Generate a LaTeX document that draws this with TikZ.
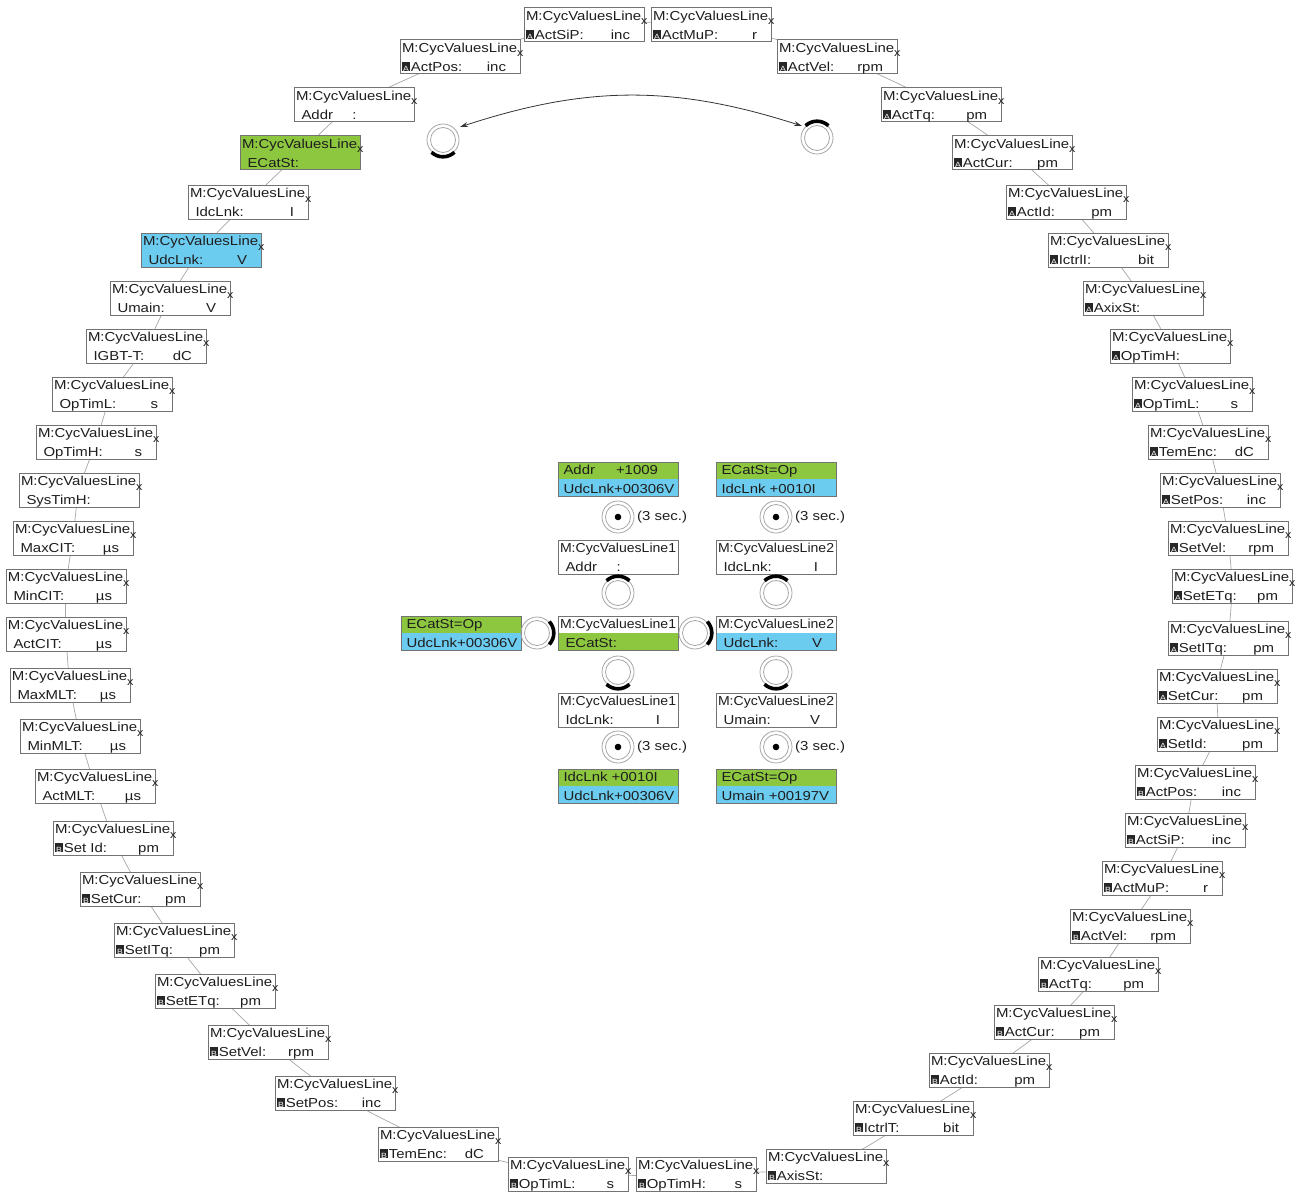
\documentclass[tikz,border=0pt]{standalone}
\usepackage{fontspec}
\setmainfont[FakeStretch=1.15]{Liberation Sans}
\usepackage{graphicx}
\usetikzlibrary{backgrounds,arrows.meta}
\definecolor{lcdgreen}{RGB}{141,198,63}
\definecolor{lcdblue}{RGB}{108,204,240}
\definecolor{txt}{RGB}{30,30,30}
\newcommand\xsub{\rlap{\raisebox{-4.3pt}{\fontsize{11}{11}\selectfont x}}}
\newcommand\ico[1]{{\setlength\fboxsep{0pt}\colorbox{black!85}{\makebox[8pt]{\rule{0pt}{9.5pt}\textcolor{white}{\fontsize{7.5}{7.5}\selectfont #1}}}}\hspace{0.8pt}}
\newcommand\ind{\hspace*{5.5pt}}
\newcommand\twol[2]{\parbox{116pt}{\rule{0pt}{12.7pt}#1\\#2\rule[-2.8pt]{0pt}{0pt}}}
\newcommand\cl[1]{\scalebox{0.94}[1]{#1}}
% ring box: name, left, top, label, unit, extra style
\newcommand\rb[6]{\node[rbox,#6] (#1) at (#2+60,#3+17) {\twol{\mbox{M:CycValuesLine}\xsub}{#4\hfill #5\hspace{12pt}}};}
% center box: name, left, top, line1, line2, style
\newcommand\cb[6]{\node[rbox,#6] (#1) at (#2+60,#3+17) {\twol{#4}{#5}};}
% pressed knob: name, x, y, angle
\newcommand\pk[4]{\node[knobc] (#1) at (#2,#3) {};
  \draw[knobring] (#1.center) circle[radius=16];
  \draw[press] (#1.center) ++(#4-43:16.8) arc[start angle=#4-43, end angle=#4+43, radius=16.8];}
% dot knob: name, x, y
\newcommand\dk[3]{\node[knobc] (#1) at (#2,#3) {};
  \draw[knobring] (#1.center) circle[radius=16];
  \fill[black] (#1.center) circle[radius=3.3];
  \node[lbl,anchor=west] (#1t) at ([xshift=19pt]#1.center) {(3 sec.)};}
\begin{document}
\begin{tikzpicture}[x=1pt,y=-1pt,
  every node/.style={font=\fontsize{13}{18.5}\selectfont, text=txt},
  rbox/.style={draw=black!55, line width=1pt, fill=white, inner xsep=2pt, inner ysep=0pt},
  gfill/.style={fill=lcdgreen},
  bfill/.style={fill=lcdblue},
  gb/.style={path picture={\fill[lcdgreen] (path picture bounding box.north west) rectangle (path picture bounding box.east);
     \fill[lcdblue] (path picture bounding box.west) rectangle (path picture bounding box.south east);}},
  lowg/.style={path picture={\fill[lcdgreen] (path picture bounding box.west) rectangle (path picture bounding box.south east);}},
  lowb/.style={path picture={\fill[lcdblue] (path picture bounding box.west) rectangle (path picture bounding box.south east);}},
  knobc/.style={circle, draw=black!35, line width=0.8pt, minimum size=25pt, inner sep=0pt},
  knobring/.style={draw=black!35, line width=0.8pt},
  press/.style={draw=black, line width=3.6pt},
  lbl/.style={inner sep=0pt},
  ring/.style={draw=black!35, line width=0.7pt},
  swap/.style={draw=black!80, line width=0.8pt, {Stealth[length=8pt,width=5pt]}-{Stealth[length=8pt,width=5pt]}}
]
\useasboundingbox (0,0) rectangle (1305,1193);
% top
\rb{tA1}{524}{8}{\ico{A}ActSiP:}{inc}{}
\rb{tA2}{651}{8}{\ico{A}ActMuP:}{r}{}
\rb{a1}{400}{40}{\ico{A}ActPos:}{inc}{}
% right A series
\rb{a3}{777}{40}{\ico{A}ActVel:}{rpm}{}
\rb{a4}{881}{88}{\ico{A}ActTq:}{pm}{}
\rb{a5}{952}{136}{\ico{A}ActCur:}{pm}{}
\rb{a6}{1006}{185}{\ico{A}ActId:}{pm}{}
\rb{a7}{1048}{233}{\ico{A}IctrlI:}{bit}{}
\rb{a8}{1083}{281}{\ico{A}AxixSt:}{}{}
\rb{a9}{1110}{329}{\ico{A}OpTimH:}{}{}
\rb{a10}{1132}{377}{\ico{A}OpTimL:}{s}{}
\rb{a11}{1148}{425}{\ico{A}TemEnc:}{dC}{}
\rb{a12}{1160}{473}{\ico{A}SetPos:}{inc}{}
\rb{a13}{1168}{521}{\ico{A}SetVel:}{rpm}{}
\rb{a14}{1172}{569}{\ico{A}SetETq:}{pm}{}
\rb{a15}{1168}{621}{\ico{A}SetITq:}{pm}{}
\rb{a16}{1157}{669}{\ico{A}SetCur:}{pm}{}
\rb{a17}{1157}{717}{\ico{A}SetId:}{pm}{}
% B series
\rb{b1}{1135}{765}{\ico{B}ActPos:}{inc}{}
\rb{b2}{1125}{813}{\ico{B}ActSiP:}{inc}{}
\rb{b3}{1102}{861}{\ico{B}ActMuP:}{r}{}
\rb{b4}{1070}{909}{\ico{B}ActVel:}{rpm}{}
\rb{b5}{1038}{957}{\ico{B}ActTq:}{pm}{}
\rb{b6}{994}{1005}{\ico{B}ActCur:}{pm}{}
\rb{b7}{929}{1053}{\ico{B}ActId:}{pm}{}
\rb{b8}{853}{1101}{\ico{B}IctrlT:}{bit}{}
\rb{b9}{766}{1149}{\ico{B}AxisSt:}{}{}
\rb{b10}{636}{1157}{\ico{B}OpTimH:}{s}{}
\rb{b11}{508}{1157}{\ico{B}OpTimL:}{s}{}
\rb{b12}{378}{1127}{\ico{B}TemEnc:}{dC}{}
\rb{b13}{275}{1076}{\ico{B}SetPos:}{inc}{}
\rb{b14}{208}{1025}{\ico{B}SetVel:}{rpm}{}
\rb{b15}{155}{974}{\ico{B}SetETq:}{pm}{}
\rb{b16}{114}{923}{\ico{B}SetITq:}{pm}{}
\rb{b17}{80}{872}{\ico{B}SetCur:}{pm}{}
\rb{b18}{53}{821}{\ico{B}Set Id:}{pm}{}
% left plain series
\rb{p1}{35}{769}{\ind ActMLT:}{µs}{}
\rb{p2}{20}{719}{\ind MinMLT:}{µs}{}
\rb{p3}{10}{668}{\ind MaxMLT:}{µs}{}
\rb{p4}{6}{617}{\ind ActCIT:}{µs}{}
\rb{p5}{6}{569}{\ind MinCIT:}{µs}{}
\rb{p6}{13}{521}{\ind MaxCIT:}{µs}{}
\rb{p7}{19}{473}{\ind SysTimH:}{}{}
\rb{p8}{36}{425}{\ind OpTimH:}{s}{}
\rb{p9}{52}{377}{\ind OpTimL:}{s}{}
\rb{p10}{86}{329}{\ind IGBT-T:}{dC}{}
\rb{p11}{110}{281}{\ind Umain:}{V}{}
\rb{p12}{141}{233}{\ind UdcLnk:}{V}{bfill}
\rb{p13}{188}{185}{\ind IdcLnk:}{I}{}
\rb{p14}{240}{136}{\ind ECatSt:}{}{gfill}
\rb{p15}{294}{88}{\ind\makebox[51pt][l]{Addr}:}{}{}
% ring line
\begin{scope}[on background layer]
\draw[ring] plot[smooth cycle, tension=0.4] coordinates {(tA1.center) (tA2.center) (a3.center) (a4.center) (a5.center) (a6.center) (a7.center) (a8.center) (a9.center) (a10.center) (a11.center) (a12.center) (a13.center) (a14.center) (a15.center) (a16.center) (a17.center) (b1.center) (b2.center) (b3.center) (b4.center) (b5.center) (b6.center) (b7.center) (b8.center) (b9.center) (b10.center) (b11.center) (b12.center) (b13.center) (b14.center) (b15.center) (b16.center) (b17.center) (b18.center) (p1.center) (p2.center) (p3.center) (p4.center) (p5.center) (p6.center) (p7.center) (p8.center) (p9.center) (p10.center) (p11.center) (p12.center) (p13.center) (p14.center) (p15.center) (a1.center)};
\end{scope}
% top knobs and arrow
\pk{k1}{443}{140}{90}
\pk{k2}{817}{138}{-90}
\coordinate (aL) at (460,127);
\coordinate (aR) at (802,126);
\draw[swap] (aL) to[bend left=18] (aR);
% center boxes
\cb{c1}{558}{462}{\hspace*{3.5pt}Addr\hfill +1009\hspace*{18pt}\mbox{}}{\hspace*{3.5pt}UdcLnk+00306V}{gb}
\cb{c2}{716}{462}{\hspace*{3.5pt}ECatSt=Op}{\hspace*{3.5pt}IdcLnk +0010I}{gb}
\cb{c3}{558}{540}{\cl{M:CycValuesLine1}}{\ind\makebox[51pt][l]{Addr}:}{}
\cb{c4}{716}{540}{\cl{M:CycValuesLine2}}{\ind IdcLnk:\hfill I\hspace{16pt}}{}
\cb{c5}{401}{616}{\hspace*{3.5pt}ECatSt=Op}{\hspace*{3.5pt}UdcLnk+00306V}{gb}
\cb{c6}{558}{616}{\cl{M:CycValuesLine1}}{\ind ECatSt:}{lowg}
\cb{c7}{716}{616}{\cl{M:CycValuesLine2}}{\ind UdcLnk:\hfill V\hspace{12pt}}{lowb}
\cb{c8}{558}{693}{\cl{M:CycValuesLine1}}{\ind IdcLnk:\hfill I\hspace{16pt}}{}
\cb{c9}{716}{693}{\cl{M:CycValuesLine2}}{\ind Umain:\hfill V\hspace{14pt}}{}
\cb{c10}{558}{769}{\hspace*{3.5pt}IdcLnk +0010I}{\hspace*{3.5pt}UdcLnk+00306V}{gb}
\cb{c11}{716}{769}{\hspace*{3.5pt}ECatSt=Op}{\hspace*{3.5pt}Umain +00197V}{gb}
% center knobs
\dk{k3}{618}{517}
\dk{k4}{776}{517}
\pk{k5}{618}{593}{-90}
\pk{k6}{776}{593}{-90}
\pk{k7}{537}{633}{0}
\pk{k8}{695}{633}{0}
\pk{k9}{618}{672}{90}
\pk{k10}{776}{672}{90}
\dk{k11}{618}{747}
\dk{k12}{776}{747}
\end{tikzpicture}
\end{document}
